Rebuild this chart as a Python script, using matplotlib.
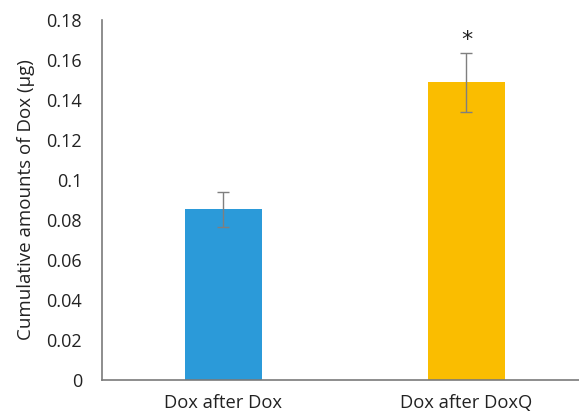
import matplotlib
matplotlib.use("Agg")
import matplotlib.pyplot as plt

categories = ["Dox after Dox", "Dox after DoxQ"]
values = [0.0853, 0.1488]
errors = [0.0086, 0.0148]
colors = ["#2B9AD9", "#FABD00"]
y_ticks = [0, 0.02, 0.04, 0.06, 0.08, 0.1, 0.12, 0.14, 0.16, 0.18]
y_tick_labels = ["0", "0.02", "0.04", "0.06", "0.08", "0.1", "0.12", "0.14", "0.16", "0.18"]

plt.rcParams["font.family"] = ["Open Sans", "DejaVu Sans"]

fig = plt.figure(figsize=(5.79, 4.15), dpi=100)
ax = fig.add_axes([101.5 / 579, 35 / 415, 477.5 / 579, 360 / 415])

x = list(range(len(categories)))
ax.bar(x, values, width=0.313, color=colors, zorder=2)
ax.errorbar(x, values, yerr=errors, fmt="none", ecolor="#7f7f7f",
            elinewidth=1.0, capsize=4, capthick=1.0, zorder=3)

# significance marker above the second bar
ax.text(x[1], values[1] + errors[1] + 0.0012, "*", ha="center", va="bottom",
        fontsize=16, color="#222222", family="DejaVu Sans")

ax.set_xlim(-0.502, 1.463)
ax.set_ylim(0, 0.18)
ax.set_yticks(y_ticks)
ax.set_yticklabels(y_tick_labels)
ax.set_xticks(x)
ax.set_xticklabels(categories)
ax.tick_params(axis="y", length=0, pad=14, labelsize=13, labelcolor="#222222")
ax.tick_params(axis="x", length=0, pad=10, labelsize=13.2, labelcolor="#222222")

for side in ["right", "top"]:
    ax.spines[side].set_visible(False)
for side in ["left", "bottom"]:
    ax.spines[side].set_color("#7a7a7a")
    ax.spines[side].set_linewidth(1.2)

ax.set_ylabel("Cumulative amounts of Dox (µg)", fontsize=13.5, color="#222222", labelpad=8)

fig.savefig("out.png", dpi=100)
